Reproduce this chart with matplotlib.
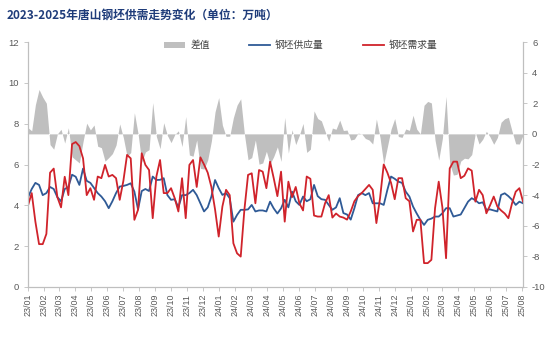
import matplotlib
matplotlib.use("Agg")
import matplotlib.pyplot as plt
import matplotlib.dates as mdates
from matplotlib.lines import Line2D
from matplotlib.patches import Patch
import numpy as np
import pandas as pd

plt.rcParams['font.family'] = ['Liberation Sans', 'Noto Sans CJK SC', 'DejaVu Sans']
plt.rcParams['axes.unicode_minus'] = False

# Weekly Tangshan billet data, 万吨
start_date = "2023-01-01"
supply = [
    4.4, 4.8, 5.1, 5.0, 4.5, 4.6, 4.9, 4.8, 4.4, 4.2,
    4.8, 4.9, 5.5, 5.4, 5.0, 5.8, 5.2, 5.1, 4.85, 4.6,
    4.43, 4.2, 3.86, 4.2, 4.6, 4.92, 4.95, 5.0, 5.08, 4.67,
    3.8, 4.7, 4.8, 4.7, 5.41, 5.24, 5.25, 5.33, 4.5, 4.27,
    4.3, 3.9, 4.5, 4.5, 4.6, 4.76, 4.5, 4.1, 3.7, 3.9,
    4.43, 5.24, 4.84, 4.51, 4.6, 4.35, 3.2, 3.53, 3.78, 3.78,
    3.8, 4.02, 3.7, 3.75, 3.75, 3.7, 4.18, 3.85, 3.6, 3.85,
    4.27, 3.9, 4.67, 4.2, 4.02, 4.43, 4.2, 4.3, 5.0, 4.45,
    4.3, 4.27, 4.02, 3.78, 3.9, 4.35, 3.62, 3.55, 3.3, 3.86,
    4.5, 4.6, 4.5, 4.6, 4.1, 4.1, 4.1, 4.02, 4.76, 5.41,
    5.3, 5.16, 5.1, 4.67, 4.43, 3.94, 3.6, 3.29, 3.04, 3.29,
    3.35, 3.45, 3.45, 3.61, 3.86, 3.86, 3.45, 3.5, 3.55, 3.86,
    4.18, 4.35, 4.25, 4.1, 4.15, 3.78, 3.8, 3.75, 3.7, 4.51,
    4.59, 4.45, 4.27, 4.02, 4.18, 4.1,
]
demand = [
    4.0, 4.6, 3.2, 2.1, 2.1, 2.6, 5.6, 5.8, 4.4, 3.9,
    5.4, 4.5, 7.0, 7.1, 6.9, 6.3, 4.5, 4.84, 4.27, 5.41,
    5.33, 5.98, 5.41, 5.49, 5.33, 4.27, 5.2, 6.47, 6.3, 3.29,
    3.78, 6.55, 5.98, 5.73, 3.37, 5.41, 6.22, 4.6, 4.6, 4.84,
    4.35, 3.7, 5.33, 3.37, 5.98, 6.22, 4.9, 6.35, 6.0, 5.6,
    4.9, 3.8, 2.47, 3.94, 4.76, 4.5, 2.14, 1.65, 1.49, 3.78,
    5.49, 5.57, 4.1, 5.73, 5.65, 4.84, 6.14, 5.33, 4.45, 5.65,
    3.2, 5.16, 4.4, 4.9, 4.1, 3.75, 5.41, 5.3, 3.5, 3.45,
    3.45, 4.1, 4.5, 3.4, 3.6, 3.45, 3.4, 3.3, 3.7, 4.2,
    4.45, 4.6, 4.8, 5.0, 4.76, 3.13, 4.35, 6.0, 5.6, 5.1,
    4.3, 5.33, 5.33, 4.35, 4.2, 2.72, 3.29, 3.29, 1.17, 1.17,
    1.33, 3.86, 5.16, 3.9, 1.41, 5.81, 6.14, 6.14, 5.33, 5.45,
    5.81, 5.7, 4.18, 4.76, 4.5, 3.61, 4.0, 4.43, 3.94, 3.75,
    3.6, 3.37, 4.1, 4.67, 4.84, 4.18,
]
title = "2023-2025年唐山钢坯供需走势变化（单位：万吨）"
labels = ["差值", "钢坯供应量", "钢坯需求量"]

dates = pd.date_range(start_date, periods=len(supply), freq="7D")
supply_arr = np.array(supply)
demand_arr = np.array(demand)
diff = supply_arr - demand_arr

c_blue = "#2F5A96"
c_red = "#D0232B"
c_gray = "#BFBFBF"
c_tick = "#595959"
c_axis = "#BFBFBF"

fig = plt.figure(figsize=(5.5, 3.5), dpi=100)
ax = fig.add_axes([0.051, 0.18, 0.900, 0.70])
ax2 = ax.twinx()

# difference area on the right axis, lines on top via the left axis
ax2.fill_between(dates, 0, diff, color=c_gray, linewidth=0)
ax.set_zorder(ax2.get_zorder() + 1)
ax.patch.set_visible(False)

ax.plot(dates, supply_arr, color=c_blue, lw=1.3)
ax.plot(dates, demand_arr, color=c_red, lw=1.3)

ax.set_ylim(0, 12)
ax.set_yticks(np.arange(0, 13, 2))
ax2.set_ylim(-10, 6)
ax2.set_yticks(np.arange(-10, 7, 2))

ax.set_xlim(pd.Timestamp("2023-01-01"), dates[-1])
ax.xaxis.set_major_locator(mdates.MonthLocator())
ax.xaxis.set_major_formatter(mdates.DateFormatter("%y/%m"))
for lab in ax.get_xticklabels():
    lab.set_rotation(90)

for a in (ax, ax2):
    for s in a.spines.values():
        s.set_color(c_axis)
        s.set_linewidth(0.8)
    a.spines["top"].set_visible(False)
    a.tick_params(colors=c_tick, labelsize=6.8, length=3, width=0.6)
    a.tick_params(axis="both", color=c_axis)
ax.tick_params(axis="x", labelsize=6.4, pad=2)

fig.text(0.012, 0.955, title, fontsize=8.5, fontweight="bold", color="#1F3C7A",
         family=["Noto Sans CJK SC"], va="center", ha="left")

handles = [Patch(facecolor=c_gray, edgecolor="none"),
           Line2D([], [], color=c_blue, lw=1.3),
           Line2D([], [], color=c_red, lw=1.3)]
fig.legend(handles, labels, loc="center", bbox_to_anchor=(0.547, 0.871), ncol=3,
           frameon=False, fontsize=7, handlelength=2.2, handleheight=0.6,
           columnspacing=4.0, handletextpad=0.5, labelcolor="#404040")

fig.savefig("out.png", dpi=100)
